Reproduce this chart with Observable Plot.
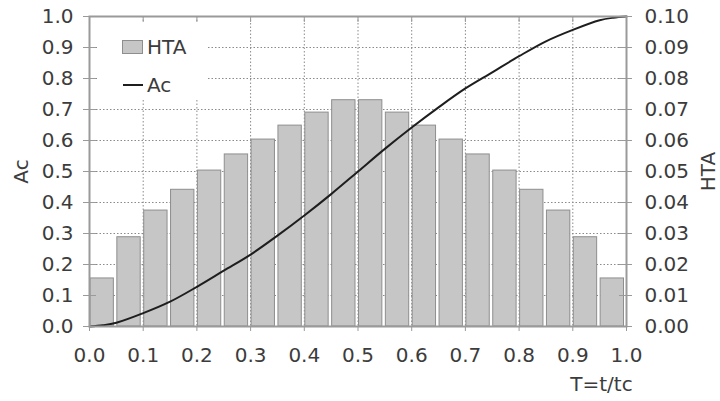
<!DOCTYPE html>
<html>
<head>
<meta charset="utf-8">
<script src="https://cdn.jsdelivr.net/npm/d3@7"></script>
<script src="https://cdn.jsdelivr.net/npm/@observablehq/plot@0.6"></script>
<style>
  html, body { margin: 0; padding: 0; background: #fff; }
  #chart { position: relative; width: 720px; height: 401px; }
</style>
</head>
<body>
<div id="chart"></div>
<script>
// Bins of T (start, end) and HTA values (right axis units)
const binStart = [0.00,0.05,0.10,0.15,0.20,0.25,0.30,0.35,0.40,0.45,0.50,0.55,0.60,0.65,0.70,0.75,0.80,0.85,0.90,0.95];
const binEnd   = [0.05,0.10,0.15,0.20,0.25,0.30,0.35,0.40,0.45,0.50,0.55,0.60,0.65,0.70,0.75,0.80,0.85,0.90,0.95,1.00];
const htaValues = [0.0155,0.0288,0.0374,0.0441,0.0503,0.0555,0.0603,0.0648,0.0690,0.0730,
                   0.0730,0.0690,0.0648,0.0603,0.0555,0.0503,0.0441,0.0374,0.0288,0.0155];
// Ac curve (left axis)
const curveT  = [0,0.025,0.05,0.10,0.15,0.20,0.25,0.30,0.35,0.40,0.45,0.50,0.55,0.60,0.65,0.70,0.75,0.80,0.85,0.90,0.95,0.975,1.00];
const curveAc = [0,0.004,0.012,0.043,0.080,0.128,0.180,0.232,0.293,0.358,0.427,0.500,0.573,0.642,0.707,0.768,0.820,0.872,0.920,0.957,0.988,0.996,1.000];
// Tick labels
const xTicks = [0,0.1,0.2,0.3,0.4,0.5,0.6,0.7,0.8,0.9,1.0];
const yTicks = [0,0.1,0.2,0.3,0.4,0.5,0.6,0.7,0.8,0.9,1.0];
const yLabel = "Ac", y2Label = "HTA", xLabel = "T=t/tc";
const legendItems = ["HTA", "Ac"];

const bins = binStart.map((s, i) => ({x1: s, x2: binEnd[i], hta: htaValues[i]}));
const curve = curveT.map((t, i) => ({t, ac: curveAc[i]}));
const innerTicks = yTicks.slice(1, -1);
const innerX = xTicks.slice(1, -1);

const W = 720, H = 401, mL = 89, mR = 94, mT = 16, mB = 75;
const pw = W - mL - mR, ph = H - mT - mB;
const FONT = "DejaVu Sans, Verdana, sans-serif";
const FS = 20;
const TXT = "#3c3c3c";

const plot = Plot.plot({
  width: W, height: H,
  marginLeft: mL, marginRight: mR, marginTop: mT, marginBottom: mB,
  style: {fontFamily: FONT, fontSize: FS + "px", background: "#fff", color: TXT},
  x: {domain: [0, 1]},
  y: {domain: [0, 1]},
  marks: [
    Plot.gridX(innerX, {stroke: "#8a8a8a", strokeOpacity: 1, strokeDasharray: "1.5,2"}),
    Plot.gridY(innerTicks, {stroke: "#8a8a8a", strokeOpacity: 1, strokeDasharray: "1.5,2"}),
    Plot.rectY(bins, {x1: "x1", x2: "x2", y: d => d.hta * 10, fill: "#c6c6c6", stroke: "#8e8e8e", strokeWidth: 1, insetLeft: 1, insetRight: 2.5}),
    Plot.line(curve, {x: "t", y: "ac", curve: "catmull-rom", stroke: "#1e1e1e", strokeWidth: 2}),
    Plot.frame({stroke: "#9a9a9a", strokeWidth: 2}),
    // inward ticks
    Plot.ruleY(innerTicks, {stroke: "#9a9a9a", insetRight: pw - 7}),
    Plot.ruleY(innerTicks, {stroke: "#9a9a9a", insetLeft: pw - 7}),
    Plot.ruleX(innerX, {stroke: "#9a9a9a", insetBottom: ph - 6}),
    Plot.axisY(yTicks, {anchor: "left", tickFormat: d3.format(".1f"), tickSize: 6, tickPadding: 10, stroke: "#9a9a9a", fill: TXT, fontSize: FS, label: null}),
    Plot.axisY(yTicks, {anchor: "right", tickFormat: d => d3.format(".2f")(d / 10), tickSize: 5, tickPadding: 13, stroke: "#9a9a9a", fill: TXT, fontSize: FS, label: null}),
    Plot.axisX(xTicks, {anchor: "bottom", tickFormat: d3.format(".1f"), tickSize: 5, tickPadding: 16, stroke: "#9a9a9a", fill: TXT, fontSize: FS, label: null}),
    Plot.text([yLabel], {frameAnchor: "left", dx: -68, rotate: -90, text: d => d, fill: TXT, fontSize: FS, textAnchor: "middle"}),
    Plot.text([y2Label], {frameAnchor: "right", dx: 82, rotate: -90, text: d => d, fill: TXT, fontSize: FS, textAnchor: "middle"}),
    Plot.text([xLabel], {frameAnchor: "bottom-right", dx: -25, dy: 64, text: d => d, fill: TXT, fontSize: FS, textAnchor: "middle"})
  ]
});
document.getElementById("chart").appendChild(plot);

// Legend (inside plot area, top-left)
const svg = d3.select(plot);
const lg = svg.append("g").attr("font-family", FONT).attr("font-size", FS).attr("text-anchor", "start");
lg.append("rect").attr("x", 97).attr("y", 23).attr("width", 111).attr("height", 77).attr("fill", "#fff");
lg.append("rect").attr("x", 122.5).attr("y", 40.5).attr("width", 20).attr("height", 13).attr("fill", "#c6c6c6").attr("stroke", "#8e8e8e");
lg.append("text").attr("x", 147).attr("y", 47).attr("dy", "0.35em").attr("fill", TXT).text(legendItems[0]);
lg.append("line").attr("x1", 123).attr("x2", 143).attr("y1", 85).attr("y2", 85).attr("stroke", "#1e1e1e").attr("stroke-width", 2);
lg.append("text").attr("x", 147).attr("y", 85).attr("dy", "0.35em").attr("fill", TXT).text(legendItems[1]);
</script>
</body>
</html>
